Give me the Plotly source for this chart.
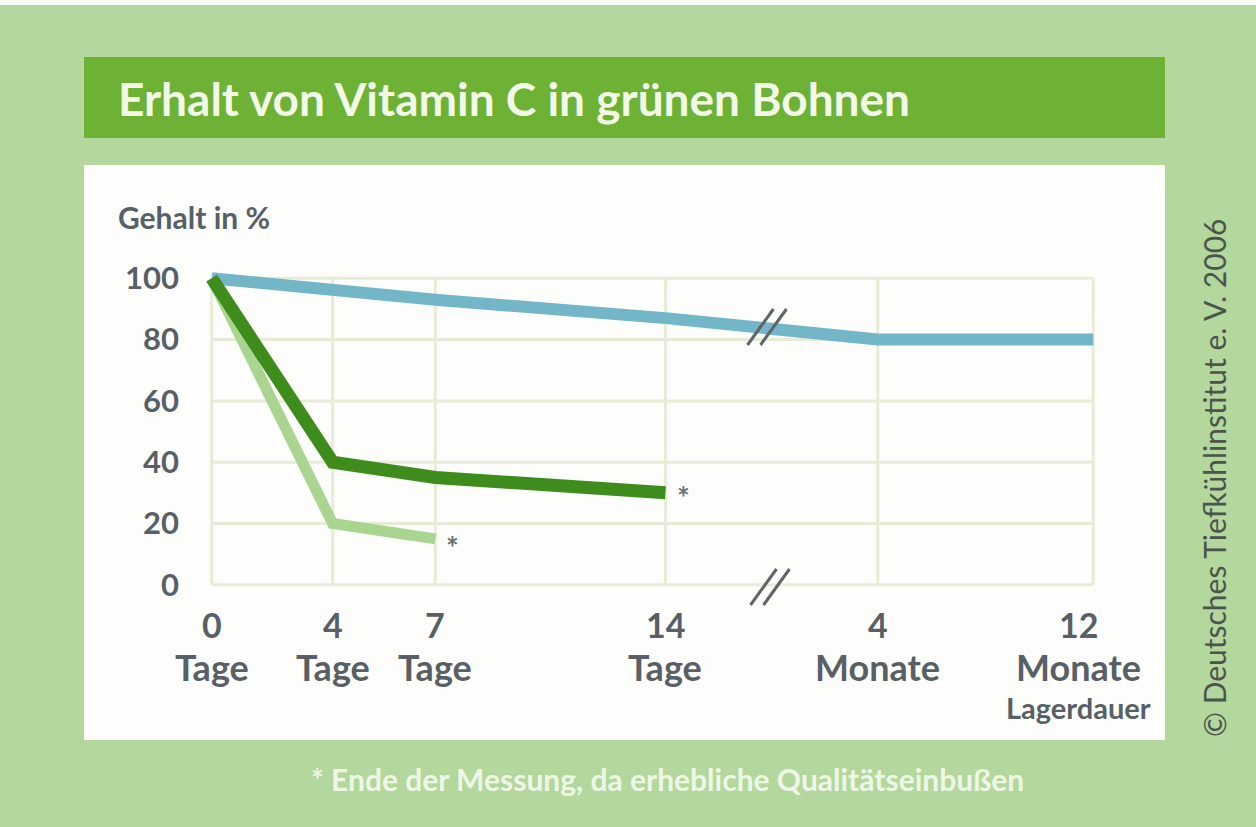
import plotly.graph_objects as go

# ---- data ----
x_labels_num = ["0", "4", "7", "14", "4", "12"]
x_labels_unit = ["Tage", "Tage", "Tage", "Tage", "Monate", "Monate"]
# nominal positions on the broken (non-linear) time axis
x_axis_pos = [0, 3.73, 6.9, 14, 20.55, 27.2]

blue_values = [100, 96, 93, 87, 80, 80]          # tiefgekühlt
dark_values = [100, 40, 35, 30]                  # Kühlschrank
light_values = [100, 20, 15]                     # Raumtemperatur

y_ticks = [0, 20, 40, 60, 80, 100]

# ---- layout geometry (pixels) ----
W, H = 1256, 827
L, R, T, B = 202, 153, 266, 233
PW, PH = W - L - R, H - T - B
XR = [-0.3, 27.5]
YR = [-3, 104]

def px(x):
    return (x - L) / PW

def py(y):
    return (H - B - y) / PH

BG = "#b3d79d"
BAR = "#6db234"
TXT = "#585f66"
GRID = "#e8ecd7"
FONT = "Lato"

fig = go.Figure()

shapes = []
# background panels
shapes.append(dict(type="rect", xref="paper", yref="paper", x0=px(-5), x1=px(W + 5), y0=py(5), y1=py(-5),
                   fillcolor="white", line=dict(width=0), layer="below"))
shapes.append(dict(type="rect", xref="paper", yref="paper", x0=px(84), x1=px(1165), y0=py(138), y1=py(57),
                   fillcolor=BAR, line=dict(width=0), layer="below"))
shapes.append(dict(type="rect", xref="paper", yref="paper", x0=px(84), x1=px(1165), y0=py(740), y1=py(165),
                   fillcolor="#fdfefb", line=dict(width=0), layer="below"))
# grid lines spanning the data extent
for yv in y_ticks:
    shapes.append(dict(type="line", xref="x", yref="y", x0=x_axis_pos[0], x1=x_axis_pos[-1],
                       y0=yv, y1=yv, line=dict(color=GRID, width=3), layer="below"))
for xv in x_axis_pos:
    shapes.append(dict(type="line", xref="x", yref="y", x0=xv, x1=xv,
                       y0=y_ticks[0], y1=y_ticks[-1], line=dict(color=GRID, width=3), layer="below"))

fig.add_trace(go.Scatter(x=x_axis_pos, y=blue_values, mode="lines",
                         line=dict(color="#73b6c8", width=12), hoverinfo="skip", showlegend=False))
fig.add_trace(go.Scatter(x=x_axis_pos[:len(light_values)], y=light_values, mode="lines",
                         line=dict(color="#a9d591", width=11), hoverinfo="skip", showlegend=False))
fig.add_trace(go.Scatter(x=x_axis_pos[:len(dark_values)], y=dark_values, mode="lines",
                         line=dict(color="#3e8c1c", width=13), hoverinfo="skip", showlegend=False))

# break marks "//" (decoration)
for (cx, cy) in [(767, 327), (770, 587)]:
    for dx in (-6.5, 6.5):
        shapes.append(dict(type="line", xref="paper", yref="paper",
                           x0=px(cx + dx - 13), y0=py(cy + 18), x1=px(cx + dx + 13), y1=py(cy - 18),
                           line=dict(color="#5f6468", width=3)))

fig.update_layout(shapes=shapes)

ann = []
ann.append(dict(text="Erhalt von Vitamin C in grünen Bohnen", xref="paper", yref="paper",
                x=px(116), y=py(98), xanchor="left", yanchor="middle", showarrow=False,
                font=dict(family=FONT, size=46, color="#f2f9e8", weight="bold")))
ann.append(dict(text="Gehalt in %", xref="paper", yref="paper", x=px(116), y=py(217),
                xanchor="left", yanchor="middle", showarrow=False,
                font=dict(family=FONT, size=30, color=TXT, weight="bold")))
for i, (n, u) in enumerate(zip(x_labels_num, x_labels_unit)):
    shift = -15 if i == len(x_labels_num) - 1 else 0
    ann.append(dict(text=n, xref="x", yref="paper", x=x_axis_pos[i], y=py(624), xshift=shift,
                    xanchor="center", yanchor="middle", showarrow=False,
                    font=dict(family=FONT, size=34, color=TXT, weight="bold")))
    ann.append(dict(text=u, xref="x", yref="paper", x=x_axis_pos[i], y=py(667), xshift=shift,
                    xanchor="center", yanchor="middle", showarrow=False,
                    font=dict(family=FONT, size=36, color=TXT, weight="bold")))
ann.append(dict(text="Lagerdauer", xref="paper", yref="paper", x=px(1078), y=py(707),
                xanchor="center", yanchor="middle", showarrow=False,
                font=dict(family=FONT, size=29, color=TXT, weight="bold")))
ann.append(dict(text="*", xref="x", yref="y", x=x_axis_pos[len(light_values) - 1], y=light_values[-1],
                xshift=17, yshift=-8, showarrow=False,
                font=dict(family=FONT, size=30, color="#6a6f73", weight="bold")))
ann.append(dict(text="*", xref="x", yref="y", x=x_axis_pos[len(dark_values) - 1], y=dark_values[-1],
                xshift=18, yshift=-4, showarrow=False,
                font=dict(family=FONT, size=30, color="#6a6f73", weight="bold")))
ann.append(dict(text="* Ende der Messung, da erhebliche Qualitätseinbußen", xref="paper", yref="paper",
                x=px(667), y=py(779), xanchor="center", yanchor="middle", showarrow=False,
                font=dict(family=FONT, size=30, color="#eef7e6", weight="bold")))
ann.append(dict(text="© Deutsches Tiefkühlinstitut e. V. 2006", xref="paper", yref="paper",
                x=px(1214), y=py(478), xanchor="center", yanchor="middle", showarrow=False, textangle=-90,
                font=dict(family=FONT, size=30, color="#4b554c")))
fig.update_layout(annotations=ann)

fig.update_layout(
    width=W, height=H,
    margin=dict(l=L, r=R, t=T, b=B, autoexpand=False),
    paper_bgcolor=BG, plot_bgcolor="rgba(0,0,0,0)",
    xaxis=dict(range=XR, showgrid=False, zeroline=False, showticklabels=False, ticks="", fixedrange=True),
    yaxis=dict(range=YR, showgrid=False, zeroline=False, tickvals=y_ticks, ticktext=[str(v) for v in y_ticks],
               ticks="", ticklabelstandoff=22,
               tickfont=dict(family=FONT, size=31, color=TXT, weight="bold"), fixedrange=True),
    showlegend=False,
)

fig.write_html("out.html", config={"displayModeBar": False},
               post_script="document.body.style.margin='0';document.body.style.padding='0';")
